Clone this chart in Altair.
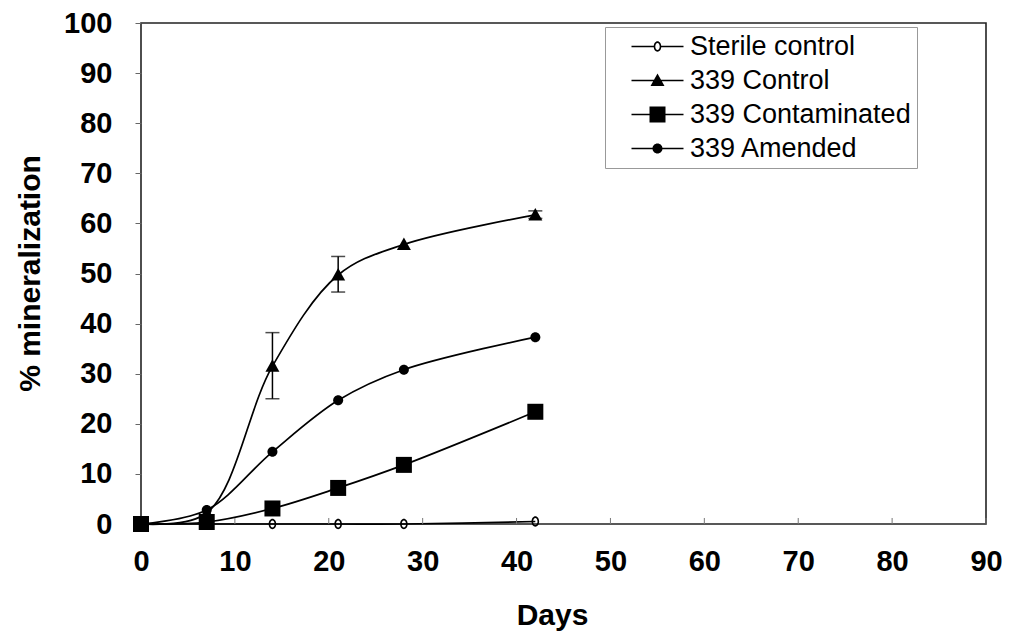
import altair as alt
import pandas as pd

# ---- data ----
days = [0, 7, 14, 21, 28, 42]
series_names = ["Sterile control", "339 Control", "339 Contaminated", "339 Amended"]
sterile = [0, 0, 0, 0, 0, 0.5]
control = [0, 2.2, 31.5, 49.7, 55.8, 61.7]
contaminated = [0, 0.4, 3.1, 7.2, 11.8, 22.4]
amended = [0, 2.8, 14.4, 24.7, 30.8, 37.3]

err_days = [14, 21, 42]
err_lo = [25.0, 46.3, 61.0]
err_hi = [38.2, 53.4, 62.5]

x_ticks = [0, 10, 20, 30, 40, 50, 60, 70, 80, 90]
y_ticks = [0, 10, 20, 30, 40, 50, 60, 70, 80, 90, 100]

# ---- marker shapes (unit paths, filled) ----
ring = ("M0.38,0A0.38,0.52 0 1,1 -0.38,0A0.38,0.52 0 1,1 0.38,0Z"
        "M0.22,0A0.22,0.36 0 1,0 -0.22,0A0.22,0.36 0 1,0 0.22,0Z")
tri = "M0,-0.7L0.7,0.55L-0.7,0.55Z"
sq = "M-0.8,-0.8L0.8,-0.8L0.8,0.8L-0.8,0.8Z"
circ = "M0.5,0A0.5,0.5 0 1,1 -0.5,0A0.5,0.5 0 1,1 0.5,0Z"
plot_paths = [ring, tri, sq, circ]
# legend line segments drawn as thin filled bars
seg = "M-2.6,-0.08L2.6,-0.08L2.6,0.08L-2.6,0.08Z"
seg_l = "M-2.6,-0.08L-0.36,-0.08L-0.36,0.08L-2.6,0.08Z"
seg_r = "M0.36,-0.08L2.6,-0.08L2.6,0.08L0.36,0.08Z"
legend_paths = [seg_l + seg_r + ring, seg + tri, seg + sq, seg + circ]

rows = []
for name, vals in zip(series_names, [sterile, control, contaminated, amended]):
    for d, v in zip(days, vals):
        rows.append({"series": name, "day": d, "value": v})
df = pd.DataFrame(rows)
err_df = pd.DataFrame({"day": err_days, "lo": err_lo, "hi": err_hi})
tick_df = pd.DataFrame({"t": x_ticks[1:]})

x_enc = alt.X("day:Q", scale=alt.Scale(domain=[0, 90], nice=False),
              axis=alt.Axis(values=x_ticks, title="Days", ticks=False, tickSize=0,
                            labelPadding=23, labelFlush=False, domain=False, grid=False,
                            titleX=411, titleY=100, titleBaseline="alphabetic",
                            titleAnchor="start", titleAlign="center"))
y_enc = alt.Y("value:Q", scale=alt.Scale(domain=[0, 100], nice=False),
              axis=alt.Axis(values=y_ticks, title="% mineralization", tickSize=6,
                            labelPadding=23, labelFlush=False, domain=False, grid=False,
                            titleX=-111, titleY=250, titleBaseline="middle",
                            titleAlign="center"))

lines = alt.Chart(df).mark_line(
    interpolate="catmull-rom", color="black", strokeWidth=1.7
).encode(x=x_enc, y=y_enc, detail="series:N")

points = alt.Chart(df).mark_point(
    filled=True, fill="black", size=400, opacity=1
).encode(
    x="day:Q", y="value:Q",
    shape=alt.Shape("series:N", scale=alt.Scale(domain=series_names, range=plot_paths), legend=None),
)

err_rule = alt.Chart(err_df).mark_rule(color="black", strokeWidth=1.5).encode(
    x="day:Q", y="lo:Q", y2="hi:Q"
)
err_cap_lo = alt.Chart(err_df).mark_tick(
    color="black", thickness=1.5, size=14, orient="horizontal"
).encode(x="day:Q", y="lo:Q")
err_cap_hi = alt.Chart(err_df).mark_tick(
    color="black", thickness=1.5, size=14, orient="horizontal"
).encode(x="day:Q", y="hi:Q")

xticks = alt.Chart(tick_df).mark_rule(color="#777", strokeWidth=1).encode(
    x="t:Q", y=alt.datum(0), y2=alt.datum(1.2)
)

legend_layer = alt.Chart(df).transform_filter("false").mark_point(
    filled=True, fill="black", size=400, opacity=1
).encode(
    x="day:Q", y="value:Q",
    shape=alt.Shape(
        "series:N",
        scale=alt.Scale(domain=series_names, range=legend_paths),
        legend=alt.Legend(
            title=None, orient="none", legendX=464, legendY=4,
            labelFont="Liberation Sans", labelFontSize=27, labelColor="black",
            labelLimit=0,
            symbolSize=400, symbolFillColor="black", symbolOpacity=1,
            symbolOffset=33, labelOffset=19, rowPadding=6, padding=6,
            strokeColor="#999", fillColor="white",
        ),
    ),
)

chart = alt.layer(lines, err_rule, err_cap_lo, err_cap_hi, xticks, points, legend_layer).resolve_scale(
    shape="independent"
).properties(
    width=845, height=501,
    autosize=alt.AutoSizeParams(type="none"),
    padding={"left": 133, "top": 15, "right": 16, "bottom": 109},
    background="white",
).configure_view(
    stroke="#222", strokeWidth=1.6
).configure_axis(
    labelFont="Liberation Sans", labelFontWeight="bold", labelFontSize=29, labelColor="black",
    titleFont="Liberation Sans", titleFontWeight="bold", titleFontSize=30, titleColor="black",
    tickColor="#666",
)

chart.save("out.html", embed_options={"renderer": "svg", "actions": False})
